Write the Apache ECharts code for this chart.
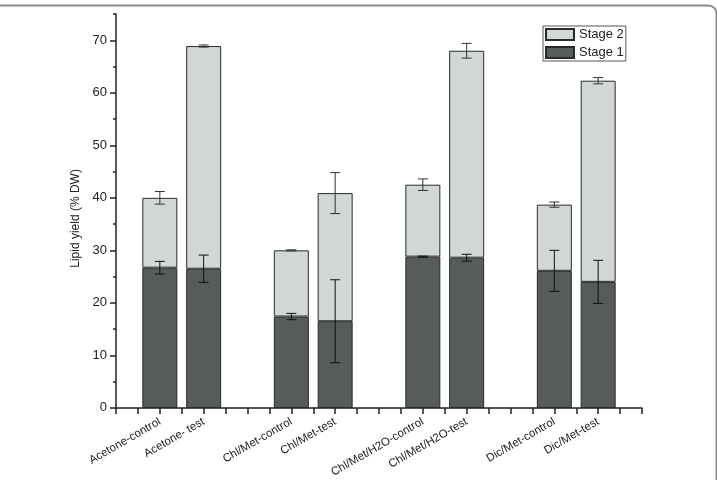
<!DOCTYPE html>
<html>
<head>
<meta charset="utf-8">
<script src="https://cdn.jsdelivr.net/npm/echarts@6/dist/echarts.min.js"></script>
<style>html,body{margin:0;padding:0;background:#fff}#c{width:717px;height:480px}</style>
</head>
<body>
<div id="c"></div>
<script>
// ---- data ----
var categories = ['Acetone-control','Acetone- test','Chl/Met-control','Chl/Met-test','Chl/Met/H2O-control','Chl/Met/H2O-test','Dic/Met-control','Dic/Met-test'];
var stage1 = [26.7, 26.5, 17.4, 16.5, 28.8, 28.6, 26.1, 24.0];
var stage2 = [13.3, 42.4, 12.6, 24.4, 13.7, 39.4, 12.6, 38.3];
var stage1Err = [1.2, 2.6, 0.6, 7.9, 0.1, 0.65, 3.9, 4.1];
var totalErr = [1.2, 0.2, 0.1, 3.9, 1.1, 1.4, 0.5, 0.6];
var yTicks = [0, 10, 20, 30, 40, 50, 60, 70];

// ---- build axis slots: pairs of bars separated by an empty slot, half-step ticks ----
var nSlots = 25;
var axisCats = [];
for (var k = 0; k < nSlots; k++) axisCats.push('_' + k);
var s1 = [], s2 = [], errData = [];
for (var k = 0; k < nSlots; k++) { s1.push('-'); s2.push('-'); }
categories.forEach(function (name, i) {
  var slot = i + Math.floor(i / 2) + 1;
  var idx = slot * 2;
  axisCats[idx] = name;
  s1[idx] = stage1[i];
  s2[idx] = stage2[i];
  errData.push([idx, stage1[i], stage1Err[i], 0]);
  errData.push([idx, stage1[i] + stage2[i], totalErr[i], 1]);
});

var chart = echarts.init(document.getElementById('c'), null, {renderer: 'canvas'});
var font = 'Liberation Sans, Arial, sans-serif';
chart.setOption({
  animation: false,
  backgroundColor: '#fff',
  graphic: [{
    type: 'rect', left: -20, top: 3, shape: {x: 0, y: 0, width: 734, height: 520, r: 8},
    style: {fill: 'none', stroke: '#8a8a8a', lineWidth: 2}, silent: true, z: 100
  }],
  grid: {left: 116, right: 75, top: 14, bottom: 68},
  legend: {
    data: ['Stage 2', 'Stage 1'], orient: 'vertical', left: 543, top: 26,
    icon: 'rect', itemWidth: 28, itemHeight: 11, itemGap: 5, padding: [2, 2, 2, 2],
    borderColor: '#555', borderWidth: 1,
    textStyle: {fontFamily: font, fontSize: 13, color: '#222'}
  },
  xAxis: {
    type: 'category', data: axisCats, boundaryGap: false,
    axisLine: {lineStyle: {color: '#222', width: 1.5}},
    axisTick: {show: true, interval: 0, length: 6, lineStyle: {color: '#222', width: 1.5}},
    axisLabel: {
      interval: 0, rotate: 30, margin: 13, fontFamily: font, fontSize: 11.5, color: '#222',
      formatter: function (v) { return v.charAt(0) === '_' ? '' : v; }
    },
    splitLine: {show: false}
  },
  yAxis: [{
    type: 'value', min: 0, max: 75, interval: 10,
    name: 'Lipid yield (% DW)', nameLocation: 'middle', nameGap: 33,
    nameTextStyle: {fontFamily: font, fontSize: 12, color: '#222', padding: [0, 15, 0, 0]},
    axisLine: {show: true, lineStyle: {color: '#222', width: 1.5}},
    axisTick: {show: true, length: 6, lineStyle: {color: '#222', width: 1.5}},
    axisLabel: {showMaxLabel: false, margin: 9, fontFamily: font, fontSize: 13, color: '#222',
      formatter: function (v) { return yTicks.indexOf(v) >= 0 ? String(v) : ''; }},
    splitLine: {show: false}
  }, {
    type: 'value', min: 0, max: 75, interval: 5, position: 'left',
    axisLine: {show: false},
    axisTick: {show: true, length: 3, lineStyle: {color: '#222', width: 1.5}},
    axisLabel: {show: false}, splitLine: {show: false}
  }],
  series: [{
    name: 'Stage 1', type: 'bar', stack: 'a', barWidth: 35, data: s1,
    itemStyle: {color: '#565c5c', borderColor: '#2a2a2a', borderWidth: 1}
  }, {
    name: 'Stage 2', type: 'bar', stack: 'a', barWidth: 35, data: s2,
    itemStyle: {color: '#d1d7d7', borderColor: '#2a2a2a', borderWidth: 1}
  }, {
    type: 'custom', z: 10, data: errData,
    renderItem: function (params, api) {
      var x = api.value(0), y = api.value(1), e = api.value(2);
      var top = api.coord([x, y + e]);
      var bot = api.coord([x, y - e]);
      var w = 5;
      var col = api.value(3) ? '#333' : '#111';
      var st = {stroke: col, lineWidth: 1};
      return {type: 'group', children: [
        {type: 'line', shape: {x1: top[0], y1: top[1], x2: bot[0], y2: bot[1]}, style: st},
        {type: 'line', shape: {x1: top[0] - w, y1: top[1], x2: top[0] + w, y2: top[1]}, style: st},
        {type: 'line', shape: {x1: bot[0] - w, y1: bot[1], x2: bot[0] + w, y2: bot[1]}, style: st}
      ]};
    }
  }]
});
</script>
</body>
</html>
